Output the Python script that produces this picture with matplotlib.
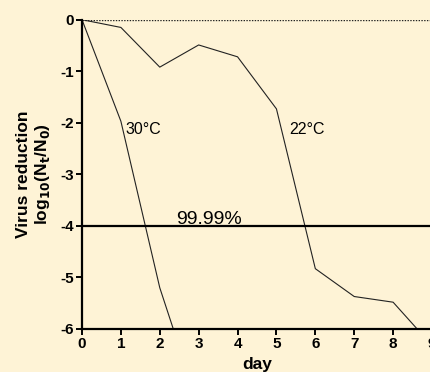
import matplotlib.pyplot as plt
import numpy as np

plt.rcParams['font.family'] = ['Liberation Sans', 'DejaVu Sans']
plt.rcParams['axes.unicode_minus'] = False

days = [0, 1, 2, 3, 4, 5, 6, 7, 8, 9]
temp30 = [0, -1.97, -5.2, -7.5]
temp22 = [0, -0.15, -0.92, -0.49, -0.72, -1.73, -4.83, -5.37, -5.48, -6.32]
threshold = -4
bg = '#FEF3D6'

fig = plt.figure(figsize=(4.31, 3.72), dpi=100, facecolor=bg)
ax = fig.add_axes([82 / 431, 43 / 372, 350 / 431, 309.3 / 372], facecolor=bg)

ax.plot(days[:len(temp30)], temp30, color='#222222', lw=0.8, clip_on=True)
ax.plot(days, temp22, color='#222222', lw=0.8, clip_on=True)
ax.axhline(0, color='#222222', lw=1.0, ls=(0, (1, 1)))
ax.axhline(threshold, color='black', lw=1.6)

ax.text(1.13, -2.22, '30°C', fontsize=11.5, va='baseline', ha='left')
ax.text(5.33, -2.22, '22°C', fontsize=11.5, va='baseline', ha='left')
ax.text(2.43, -3.96, '99.99%', fontsize=14, va='baseline', ha='left')

ax.set_xlim(0, 9)
ax.set_ylim(-6, 0)
ax.set_xticks(range(0, 10))
ax.set_yticks(range(-6, 1))
for s in ['top', 'right']:
    ax.spines[s].set_visible(False)
for s in ['left', 'bottom']:
    ax.spines[s].set_linewidth(1.6)
ax.tick_params(width=1.4, length=4, labelsize=11, pad=2)
for lab in ax.get_xticklabels() + ax.get_yticklabels():
    lab.set_fontweight('bold')

ax.set_xlabel('day', fontsize=12.5, fontweight='bold', labelpad=4)
ax.set_ylabel('Virus reduction\nlog$_{\\mathbf{10}}$(N$_{\\mathbf{t}}$/N$_{\\mathbf{0}}$)',
              fontsize=12.5, fontweight='bold', labelpad=6, linespacing=1.15)

fig.savefig('out.png', dpi=100, facecolor=bg)
